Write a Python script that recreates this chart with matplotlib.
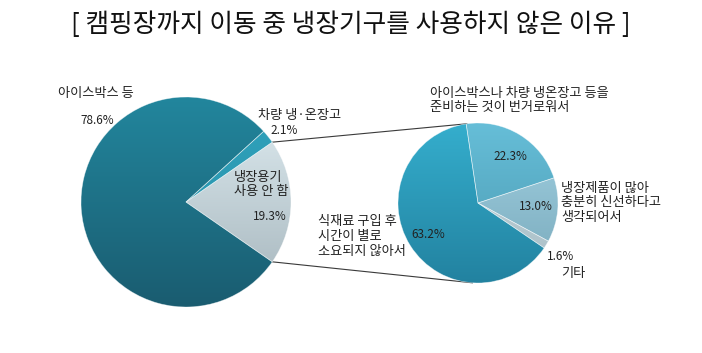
import numpy as np
import matplotlib
matplotlib.use('Agg')
import matplotlib.pyplot as plt
from matplotlib.colors import LinearSegmentedColormap

plt.rcParams['font.family'] = ['Noto Sans CJK KR', 'DejaVu Sans']

title = "[ 캠핑장까지 이동 중 냉장기구를 사용하지 않은 이유 ]"
main_labels = ["냉장용기\n사용 안 함", "차량 냉·온장고", "아이스박스 등"]
main_values = [19.3, 2.1, 78.6]
sub_labels = ["기타", "냉장제품이 많아\n충분히 신선하다고\n생각되어서",
              "아이스박스나 차량 냉온장고 등을\n준비하는 것이 번거로워서",
              "식재료 구입 후\n시간이 별로\n소요되지 않아서"]
sub_values = [1.6, 13.0, 22.3, 63.2]

W, H = 702, 353
fig = plt.figure(figsize=(W / 100, H / 100), dpi=100)
ax = fig.add_axes([0, 0, 1, 1])

# pie geometry (pixel space, y measured upward)
c1, r1 = (186, H - 202), 105
c2, r2 = (478, H - 203), 80

main_grad = [("#e0edf2", "#a3b3ba"), ("#2fa3bd", "#2a8ea6"), ("#22869d", "#1a5c70")]
sub_grad = [("#c4d6dd", "#a9bec6"), ("#a3d2e3", "#77a8ba"),
            ("#66bed8", "#4a98b0"), ("#35aecd", "#2282a0")]

w1, _ = ax.pie(main_values, center=c1, radius=r1, startangle=-main_values[0] * 3.6 / 2,
               counterclock=True, colors=[g[0] for g in main_grad], frame=True)
w2, _ = ax.pie(sub_values, center=c2, radius=r2, startangle=-34.2,
               counterclock=True, colors=[g[0] for g in sub_grad], frame=True)


def grad_fill(wedge, ctop, cbot, c, r):
    cmap = LinearSegmentedColormap.from_list('g', [cbot, ctop])
    grad = np.linspace(0, 1, 256).reshape(-1, 1)
    im = ax.imshow(grad, cmap=cmap, origin='lower', aspect='auto',
                   extent=[c[0] - r, c[0] + r, c[1] - r, c[1] + r],
                   interpolation='bilinear', zorder=2)
    im.set_clip_path(wedge)
    wedge.set_facecolor('none')
    wedge.set_edgecolor((1, 1, 1, 0.5))
    wedge.set_linewidth(0.5)
    wedge.set_zorder(3)


for w, (t, b) in zip(w1, main_grad):
    grad_fill(w, t, b, c1, r1)
for w, (t, b) in zip(w2, sub_grad):
    grad_fill(w, t, b, c2, r2)

# connector lines from the exploded slice to the sub pie
wl = w1[0]
for ang_l, ang_r in [(wl.theta2, 98.0), (wl.theta1, 266.0)]:
    x0 = c1[0] + r1 * np.cos(np.radians(ang_l))
    y0 = c1[1] + r1 * np.sin(np.radians(ang_l))
    x1 = c2[0] + r2 * np.cos(np.radians(ang_r))
    y1 = c2[1] + r2 * np.sin(np.radians(ang_r))
    ax.plot([x0, x1], [y0, y1], color='#3a3a3a', lw=0.8, zorder=1)

fs = 9.5
pfs = 8.5
LS = 14.5


def put(text, x, y, ha='left', size=fs):
    for i, line in enumerate(text.split('\n')):
        ax.text(x, H - (y + i * LS), line, ha=ha, va='center', fontsize=size,
                color='#222222', zorder=5)


# main pie labels
put(main_labels[2], 58, 94)
put(f"{main_values[2]:.1f}%", 80, 121, size=pfs)
put(main_labels[1], 258, 116)
put(f"{main_values[1]:.1f}%", 270, 130, size=pfs)
put(main_labels[0], 234, 177, )
put(f"{main_values[0]:.1f}%", 253, 217, size=pfs)

# sub pie labels
put(sub_labels[2], 430, 93)
put(f"{sub_values[2]:.1f}%", 510, 156, ha='center', size=pfs)
put(sub_labels[1], 561, 188)
put(f"{sub_values[1]:.1f}%", 536, 207, ha='center', size=pfs)
put(f"{sub_values[0]:.1f}%", 547, 257, size=pfs)
put(sub_labels[0], 561, 273)
put(sub_labels[3], 318, 222)
put(f"{sub_values[3]:.1f}%", 428, 234, ha='center', size=pfs)

ax.text(W / 2, H - 25, title, ha='center', va='center', fontsize=18.5, color='#111111')

ax.set_xlim(0, W)
ax.set_ylim(0, H)
ax.set_aspect('equal')
ax.axis('off')
fig.savefig('out.png', dpi=100)
